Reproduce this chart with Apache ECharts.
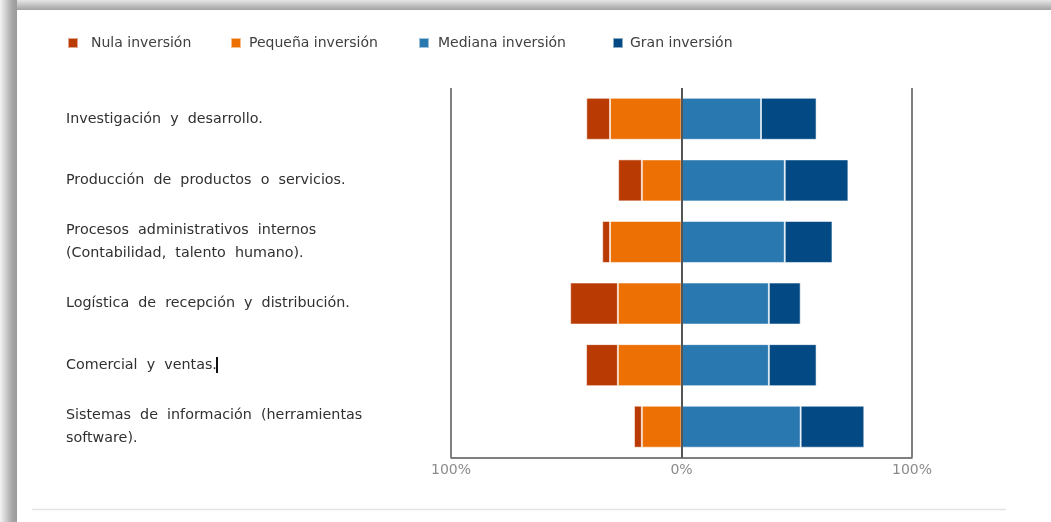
<!DOCTYPE html>
<html><head><meta charset="utf-8">
<script src="https://cdn.jsdelivr.net/npm/echarts@6/dist/echarts.min.js"></script>
<style>html,body{margin:0;padding:0;background:#fff;overflow:hidden}#c{width:1051px;height:522px}</style>
</head><body><div id="c"></div>
<script>
const categories = [
  'Investigación  y  desarrollo.',
  'Producción  de  productos  o  servicios.',
  'Procesos  administrativos  internos\n(Contabilidad,  talento  humano).',
  'Logística  de  recepción  y  distribución.',
  'Comercial  y  ventas.',
  'Sistemas  de  información  (herramientas\nsoftware).'
];
const seriesNames = ['Nula inversión', 'Pequeña inversión', 'Mediana inversión', 'Gran inversión'];
const nula    = [10.3, 10.3, 3.4, 20.7, 13.8, 3.4];
const pequena = [31.0, 17.2, 31.0, 27.6, 27.6, 17.2];
const mediana = [34.5, 44.8, 44.8, 37.9, 37.9, 51.7];
const gran    = [24.1, 27.6, 20.7, 13.8, 20.7, 27.6];
const tickLabels = ['100%', '0%', '100%'];

const colors = {
  'Nula inversión': '#B93A03',
  'Pequeña inversión': '#EC7004',
  'Mediana inversión': '#2A78B0',
  'Gran inversión': '#034A84'
};
const FONT = 'DejaVu Sans';
const chart = echarts.init(document.getElementById('c'), null, {renderer: 'canvas'});

function barSeries(name, data, negative, extra) {
  return Object.assign({
    name: name,
    type: 'bar',
    stack: 'total',
    barWidth: 42,
    data: data.map(v => negative ? -v : v),
    itemStyle: {color: colors[name], borderColor: 'rgba(255,255,255,0.55)', borderWidth: 1},
    emphasis: {disabled: true}
  }, extra || {});
}

const legendLefts = [67, 230, 418, 612];
const legendPads = [8, 3, 4, 2];
const legends = seriesNames.map((n, i) => ({
  data: [n],
  left: legendLefts[i],
  top: 36,
  padding: 0,
  itemWidth: 10,
  itemHeight: 10,
  icon: 'rect',
  selectedMode: false,
  textStyle: {fontFamily: FONT, fontSize: 14, color: '#404040', padding: [0, 0, 0, legendPads[i]]}
}));

chart.setOption({
  animation: false,
  backgroundColor: '#fff',
  legend: legends,
  grid: {left: 451, right: 139, top: 88, bottom: 64.5, containLabel: false},
  xAxis: {
    type: 'value',
    min: -100, max: 100, interval: 100,
    axisLine: {show: true, lineStyle: {color: '#555', width: 1.5}},
    axisTick: {show: false},
    splitLine: {show: true, lineStyle: {color: '#555', width: 1.5}},
    axisLabel: {
      margin: 6, fontFamily: FONT, fontSize: 14, color: '#8a8a8a',
      formatter: (v, i) => tickLabels[i]
    }
  },
  yAxis: {
    type: 'category',
    inverse: true,
    data: categories,
    axisLine: {show: false},
    axisTick: {show: false},
    axisLabel: {align: 'left', margin: 385, fontFamily: FONT, fontSize: 14.3, color: '#303030', lineHeight: 23}
  },
  series: [
    barSeries('Pequeña inversión', pequena, true),
    barSeries('Nula inversión', nula, true),
    barSeries('Mediana inversión', mediana, false),
    barSeries('Gran inversión', gran, false, {
      markLine: {
        silent: true, symbol: ['none', 'none'], label: {show: false},
        lineStyle: {color: '#555', width: 2, type: 'solid'},
        data: [{xAxis: 0}]
      }
    })
  ],
  graphic: [
    {type: 'rect', shape: {x: 0, y: 0, width: 1051, height: 10},
     style: {fill: new echarts.graphic.LinearGradient(0, 0, 0, 1, [{offset: 0, color: '#e6e6e6'}, {offset: 1, color: '#a2a2a2'}])}},
    {type: 'rect', shape: {x: 0, y: 0, width: 17, height: 522},
     style: {fill: new echarts.graphic.LinearGradient(0, 0, 1, 0, [{offset: 0, color: '#f4f4f4'}, {offset: 0.7, color: '#a8a8a8'}, {offset: 1, color: '#9a9a9a'}])}},
    {type: 'line', shape: {x1: 32, y1: 509.5, x2: 1006, y2: 509.5}, style: {stroke: '#e4e4e4', lineWidth: 1.5}},
    {type: 'rect', shape: {x: 216, y: 357, width: 2, height: 16}, style: {fill: '#111'}}
  ]
});
</script>
</body></html>
